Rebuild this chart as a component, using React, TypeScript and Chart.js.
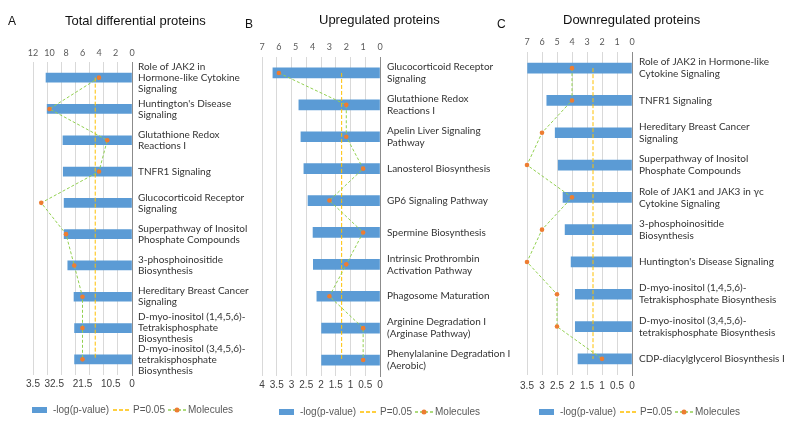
import React, { useEffect, useRef } from "react";
import Chart from "chart.js/auto";

// ---------- data ----------
const labelsA: (string | string[])[] = [
  ["Role of JAK2 in", "Hormone-like Cytokine", "Signaling"],
  ["Huntington's Disease", "Signaling"],
  ["Glutathione Redox", "Reactions I"],
  "TNFR1 Signaling",
  ["Glucocorticoid Receptor", "Signaling"],
  ["Superpathway of Inositol", "Phosphate Compounds"],
  ["3-phosphoinositide", "Biosynthesis"],
  ["Hereditary Breast Cancer", "Signaling"],
  ["D-myo-inositol (1,4,5,6)-", "Tetrakisphosphate", "Biosynthesis"],
  ["D-myo-inositol (3,4,5,6)-", "tetrakisphosphate", "Biosynthesis"],
];
const logPA = [3.04, 3.0, 2.44, 2.43, 2.4, 2.4, 2.27, 2.05, 2.03, 2.03];
const moleculesA = [4, 10, 3, 4, 11, 8, 7, 6, 6, 6];
const bottomTickValuesA = [0, 0.75, 1.75, 2.75, 3.5];
const bottomTickLabelsA = ["0", "10.5", "21.5", "32.5", "3.5"];

const labelsB: (string | string[])[] = [
  ["Glucocorticoid Receptor", "Signaling"],
  ["Glutathione Redox", "Reactions I"],
  ["Apelin Liver Signaling", "Pathway"],
  "Lanosterol Biosynthesis",
  "GP6 Signaling Pathway",
  "Spermine Biosynthesis",
  ["Intrinsic Prothrombin", "Activation Pathway"],
  "Phagosome Maturation",
  ["Arginine Degradation I", "(Arginase Pathway)"],
  ["Phenylalanine Degradation I", "(Aerobic)"],
];
const logPB = [3.63, 2.75, 2.68, 2.58, 2.44, 2.27, 2.26, 2.14, 1.98, 1.98];
const moleculesB = [6, 2, 2, 1, 3, 1, 2, 3, 1, 1];

const labelsC: (string | string[])[] = [
  ["Role of JAK2 in Hormone-like", "Cytokine Signaling"],
  "TNFR1 Signaling",
  ["Hereditary Breast Cancer", "Signaling"],
  ["Superpathway of Inositol", "Phosphate Compounds"],
  ["Role of JAK1 and JAK3 in γc", "Cytokine Signaling"],
  ["3-phosphoinositide", "Biosynthesis"],
  "Huntington's Disease Signaling",
  ["D-myo-inositol (1,4,5,6)-", "Tetrakisphosphate Biosynthesis"],
  ["D-myo-inositol (3,4,5,6)-", "tetrakisphosphate Biosynthesis"],
  "CDP-diacylglycerol Biosynthesis I",
];
const logPC = [3.48, 2.84, 2.56, 2.46, 2.3, 2.23, 2.03, 1.89, 1.89, 1.8];
const moleculesC = [4, 4, 6, 7, 4, 6, 7, 5, 5, 2];

const P_THRESHOLD = 1.3; // -log(0.05)

// ---------- style ----------
const BAR_COLOR = "#5B9BD5";
const THR_COLOR = "#FFC000";
const MOL_LINE = "#92D050";
const MOL_POINT = "#ED7D31";
const GRID = "#d9d9d9";
const FONT_LABEL = "Lato, 'Open Sans', sans-serif";
const FONT_ARIAL = "'Liberation Sans', Arial, sans-serif";

type PanelProps = {
  canvasLeft: number;
  canvasW: number;
  areaLeft: number;
  areaRight: number;
  areaTop: number;
  areaBottom: number;
  labels: (string | string[])[];
  logP: number[];
  molecules: number[];
  molMax: number;
  molStep: number;
  barMax: number;
  customBottom?: { values: number[]; labels: string[] };
  legendX: number;
  legendY: number;
  barThickness: number;
  tickPad: number;
  topPad: number;
  bottomPad: number;
  labelLineHeight: number;
};

const H = 425;

function legendPlugin(x0: number, yc: number) {
  return {
    id: "customLegend",
    afterDraw(chart: any) {
      const ctx = chart.ctx as CanvasRenderingContext2D;
      ctx.save();
      ctx.fillStyle = BAR_COLOR;
      ctx.fillRect(x0, yc - 3, 15, 6);
      ctx.font = `10px ${FONT_ARIAL}`;
      ctx.fillStyle = "#595959";
      ctx.textBaseline = "middle";
      ctx.textAlign = "left";
      ctx.fillText("-log(p-value)", x0 + 21, yc);
      ctx.fillText("P=0.05", x0 + 101, yc);
      ctx.fillText("Molecules", x0 + 156, yc);
      ctx.lineWidth = 1.5;
      ctx.setLineDash([4, 2]);
      ctx.strokeStyle = THR_COLOR;
      ctx.beginPath();
      ctx.moveTo(x0 + 81, yc);
      ctx.lineTo(x0 + 99, yc);
      ctx.stroke();
      ctx.setLineDash([3, 2]);
      ctx.strokeStyle = MOL_LINE;
      ctx.beginPath();
      ctx.moveTo(x0 + 136, yc);
      ctx.lineTo(x0 + 154, yc);
      ctx.stroke();
      ctx.setLineDash([]);
      ctx.fillStyle = MOL_POINT;
      ctx.beginPath();
      ctx.arc(x0 + 145, yc, 2.5, 0, Math.PI * 2);
      ctx.fill();
      ctx.restore();
    },
  };
}

function Panel(p: PanelProps) {
  const ref = useRef<HTMLCanvasElement | null>(null);
  useEffect(() => {
    if (!ref.current) return;
    const topAxisH = 20;
    const bottomAxisH = 20;
    const scales: any = {
      y: {
        type: "category",
        position: "right",
        offset: true,
        grid: { display: false, drawTicks: false },
        border: { display: true, color: "#8c8c8c", width: 1 },
        ticks: {
          padding: p.tickPad,
          color: "#333333",
          font: { family: FONT_LABEL, size: 10, lineHeight: p.labelLineHeight },
          autoSkip: false,
        },
        afterFit: (s: any) => {
          s.width = p.canvasW - p.areaRight;
        },
      },
      x: {
        type: "linear",
        position: "bottom",
        reverse: true,
        min: 0,
        max: p.barMax,
        grid: { display: true, color: GRID, lineWidth: 1, drawTicks: false },
        border: { display: false },
        ticks: {
          display: !p.customBottom,
          stepSize: 0.5,
          padding: p.bottomPad,
          color: "#404040",
          font: { family: FONT_ARIAL, size: 10 },
          autoSkip: false,
          maxRotation: 0,
          callback: (v: any) => String(Number(v)),
        },
        afterFit: (s: any) => {
          s.height = p.customBottom ? 0 : bottomAxisH;
        },
      },
      x2: {
        type: "linear",
        position: "top",
        reverse: true,
        min: 0,
        max: p.molMax,
        grid: { display: false, drawTicks: false },
        border: { display: false },
        ticks: {
          stepSize: p.molStep,
          padding: p.topPad,
          color: "#595959",
          font: { family: FONT_LABEL, size: 9 },
          autoSkip: false,
          maxRotation: 0,
          callback: (v: any) => String(Number(v)),
        },
        afterFit: (s: any) => {
          s.height = topAxisH;
        },
      },
    };
    if (p.customBottom) {
      const cb = p.customBottom;
      scales.x3 = {
        type: "linear",
        position: "bottom",
        reverse: true,
        min: 0,
        max: p.barMax,
        grid: { display: false, drawTicks: false },
        border: { display: false },
        afterBuildTicks: (s: any) => {
          s.ticks = cb.values.map((v) => ({ value: v }));
        },
        ticks: {
          padding: p.bottomPad,
          color: "#404040",
          font: { family: FONT_ARIAL, size: 10 },
          autoSkip: false,
          maxRotation: 0,
          callback: (_v: any, i: number) => cb.labels[i],
        },
        afterFit: (s: any) => {
          s.height = bottomAxisH;
        },
      };
    }
    const chart = new Chart(ref.current, {
      type: "bar",
      data: {
        labels: p.labels as any,
        datasets: [
          {
            type: "bar",
            label: "-log(p-value)",
            data: p.logP,
            xAxisID: "x",
            yAxisID: "y",
            indexAxis: "y",
            backgroundColor: BAR_COLOR,
            borderWidth: 0,
            barThickness: p.barThickness,
            order: 3,
          } as any,
          {
            type: "line",
            label: "P=0.05",
            data: p.labels.map(() => P_THRESHOLD),
            xAxisID: "x",
            yAxisID: "y",
            indexAxis: "y",
            borderColor: THR_COLOR,
            borderWidth: 1,
            borderDash: [4, 2],
            pointRadius: 0,
            fill: false,
            order: 2,
          } as any,
          {
            type: "line",
            label: "Molecules",
            data: p.molecules,
            xAxisID: "x2",
            yAxisID: "y",
            indexAxis: "y",
            borderColor: MOL_LINE,
            borderWidth: 1,
            borderDash: [3, 2],
            pointRadius: 2.3,
            pointBackgroundColor: MOL_POINT,
            pointBorderWidth: 0,
            tension: 0,
            fill: false,
            clip: false,
            order: 1,
          } as any,
        ],
      },
      options: {
        indexAxis: "y",
        responsive: false,
        maintainAspectRatio: false,
        animation: false,
        devicePixelRatio: 1,
        layout: {
          padding: {
            left: p.areaLeft,
            right: 0,
            top: p.areaTop - topAxisH,
            bottom: H - p.areaBottom - bottomAxisH,
          },
        },
        plugins: {
          legend: { display: false },
          tooltip: { enabled: false },
          title: { display: false },
        },
        scales,
      } as any,
      plugins: [legendPlugin(p.legendX, p.legendY)],
    });
    return () => chart.destroy();
  }, []);
  return (
    <canvas
      ref={ref}
      width={p.canvasW}
      height={H}
      style={{ position: "absolute", left: p.canvasLeft, top: 0, width: p.canvasW, height: H }}
    />
  );
}

const textStyle = (left: number, top: number, size: number): React.CSSProperties => ({
  position: "absolute",
  left,
  top,
  fontFamily: FONT_ARIAL,
  fontSize: size,
  lineHeight: `${size}px`,
  whiteSpace: "nowrap",
  color: "#111",
});

export default function App() {
  return (
    <div
      style={{
        position: "fixed",
        left: 0,
        top: 0,
        width: 792,
        height: 425,
        background: "#fff",
        overflow: "hidden",
      }}
    >
      <Panel
        canvasLeft={0}
        canvasW={250}
        areaLeft={33}
        areaRight={132}
        areaTop={62}
        areaBottom={375}
        labels={labelsA}
        logP={logPA}
        molecules={moleculesA}
        molMax={12}
        molStep={2}
        barMax={3.5}
        customBottom={{ values: bottomTickValuesA, labels: bottomTickLabelsA }}
        legendX={32}
        legendY={410}
        barThickness={9}
        tickPad={6}
        topPad={4}
        bottomPad={3}
        labelLineHeight={1.1}
      />
      <Panel
        canvasLeft={250}
        canvasW={260}
        areaLeft={12}
        areaRight={130}
        areaTop={57}
        areaBottom={376}
        labels={labelsB}
        logP={logPB}
        molecules={moleculesB}
        molMax={7}
        molStep={1}
        barMax={4}
        legendX={29}
        legendY={412}
        barThickness={10}
        tickPad={7}
        topPad={5}
        bottomPad={3}
        labelLineHeight={1.2}
      />
      <Panel
        canvasLeft={510}
        canvasW={282}
        areaLeft={17}
        areaRight={122}
        areaTop={52}
        areaBottom={375}
        labels={labelsC}
        logP={logPC}
        molecules={moleculesC}
        molMax={7}
        molStep={1}
        barMax={3.5}
        legendX={29}
        legendY={412}
        barThickness={10}
        tickPad={7}
        topPad={5}
        bottomPad={5}
        labelLineHeight={1.2}
      />
      <div style={textStyle(8, 15, 12)}>A</div>
      <div style={textStyle(245, 18, 12)}>B</div>
      <div style={textStyle(497, 18, 12)}>C</div>
      <div style={textStyle(65, 14, 13)}>Total differential proteins</div>
      <div style={textStyle(319, 13, 13)}>Upregulated proteins</div>
      <div style={textStyle(563, 13, 13)}>Downregulated proteins</div>
    </div>
  );
}
